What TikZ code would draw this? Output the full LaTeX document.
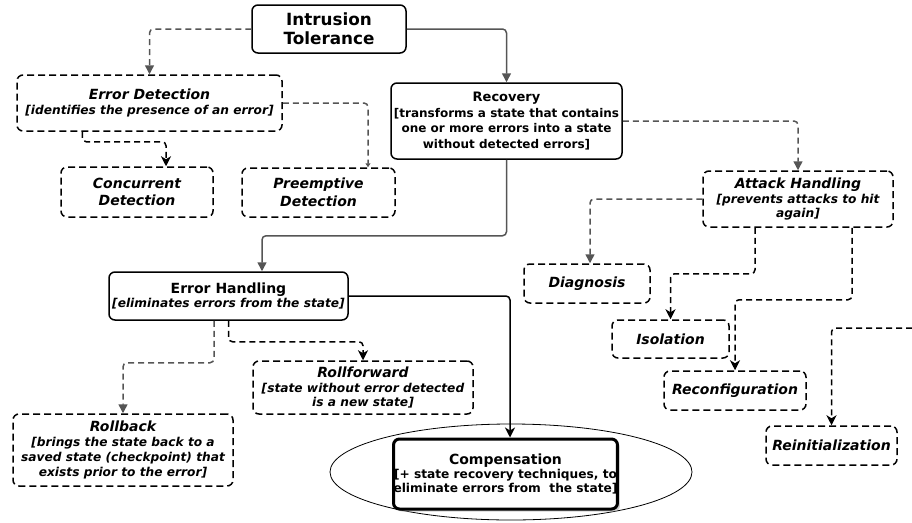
\documentclass[tikz,border=0pt]{standalone}
\usepackage{fontspec}
\setmainfont{DejaVu Sans}
\usetikzlibrary{arrows.meta,shapes.geometric,shadows}
\definecolor{cgray}{HTML}{555555}
\newcommand\ttlit[1]{{\fontsize{14}{16}\selectfont\bfseries\itshape #1}}
\newcommand\ttlbf[1]{{\fontsize{14}{16}\selectfont\bfseries\upshape #1}}
\begin{document}
\begin{tikzpicture}[x=1pt,y=-1pt,
  box/.style={draw, line width=1.5pt, rounded corners=6pt, align=center, inner sep=0pt, text=black,
    font=\fontsize{12.2}{14.8}\selectfont\bfseries\itshape},
  dbox/.style={box, dash pattern=on 7pt off 4pt},
  gtip/.style={-{Triangle[length=9pt,width=9pt]}},
  btip/.style={-{Stealth[length=10pt,width=10pt,inset=3pt]}},
  gsolid/.style={draw=cgray, line width=1.5pt, rounded corners=4pt, gtip},
  gdash/.style={gsolid, dash pattern=on 6pt off 4pt},
  bsolid/.style={draw=black, line width=1.5pt, rounded corners=4pt, btip},
  bdash/.style={bsolid, dash pattern=on 6pt off 4pt}
]
\useasboundingbox (0,0) rectangle (912,522);

% ellipse behind compensation
\node[ellipse, draw, line width=0.8pt, minimum width=362pt, minimum height=96pt] (ell) at (511,472) {};

% nodes
\node[box, minimum width=154pt, minimum height=48pt, font=\fontsize{16.8}{19}\selectfont\bfseries] (it) at (329,29) {Intrusion\\Tolerance};
\node[dbox, minimum width=265pt, minimum height=56pt] (ed) at (149.5,103) {\ttlit{Error Detection}\\{}[identifies the presence of an error]};
\node[dbox, minimum width=152pt, minimum height=50pt, font=\fontsize{14}{17.5}\selectfont\bfseries\itshape] (cd) at (137,192) {Concurrent\\Detection};
\node[dbox, minimum width=153pt, minimum height=49pt, font=\fontsize{14}{17.5}\selectfont\bfseries\itshape] (pd) at (318.5,192.5) {Preemptive\\Detection};
\node[box, minimum width=231pt, minimum height=76pt, font=\fontsize{12}{15.5}\selectfont\bfseries] (rec) at (506.5,121) {\fontsize{13}{15.5}\selectfont Recovery\\{}[transforms a state that contains\\one or more errors into a state\\without detected errors]};
\node[dbox, minimum width=190pt, minimum height=56pt] (ah) at (798,199) {\ttlit{Attack Handling}\\{}[prevents attacks to hit\\again]};
\node[dbox, minimum width=126pt, minimum height=39pt, font=\fontsize{14}{16}\selectfont\bfseries\itshape] (dg) at (587,283.5) {Diagnosis};
\node[dbox, minimum width=117pt, minimum height=38pt, font=\fontsize{14}{16}\selectfont\bfseries\itshape] (is) at (670.5,339) {Isolation};
\node[dbox, minimum width=142pt, minimum height=39pt, font=\fontsize{14}{16}\selectfont\bfseries\itshape] (rc) at (735,390.5) {Reconfiguration};
\node[dbox, minimum width=131pt, minimum height=39pt, font=\fontsize{14}{16}\selectfont\bfseries\itshape] (ri) at (831.5,445.5) {Reinitialization};
\node[box, minimum width=239pt, minimum height=48pt] (eh) at (228.5,296) {\ttlbf{Error Handling}\\{}[eliminates errors from the state]};
\node[dbox, minimum width=220pt, minimum height=53pt] (rf) at (363,387.5) {\ttlit{Rollforward}\\{}[state without error detected\\is a new state]};
\node[dbox, minimum width=220pt, minimum height=72pt] (rb) at (123,450) {\ttlit{Rollback}\\{}[brings the state back to a\\saved state (checkpoint) that\\exists prior to the error]};
\node[box, line width=3pt, fill=white, minimum width=217pt, minimum height=70pt, font=\fontsize{12.2}{14}\selectfont\bfseries\upshape,
  drop shadow={shadow xshift=2.5pt, shadow yshift=-2.5pt, fill=black!35}] (cp) at (505.5,474) {\ttlbf{Compensation}\\{}[+ state recovery techniques, to\\eliminate errors from\ \ the state]};

\coordinate (rfree) at (912,328);

% connectors
\draw[gdash] (it.west) -| (ed.north);
\draw[gsolid] (it.east) -| (rec.north);
\draw[bdash] ([xshift=66pt]ed.south west) -- ++(0,10) -| ([xshift=29pt]cd.north);
\draw[gdash, -{Triangle[length=4pt,width=5pt]}] (ed.east) -| ([xshift=49.5pt]pd.north);
\draw[gdash] (rec.east) -| (ah.north);
\draw[gsolid] (rec.south) -- ++(0,76) -| ([xshift=33.5pt]eh.north);
\draw[gdash] (ah.west) -| ([xshift=3pt]dg.north);
\draw[bdash] ([xshift=-43pt]ah.south) -- ++(0,46) -| (is.north);
\draw[bdash] ([xshift=54pt]ah.south) -- ++(0,72) -| (rc.north);
\draw[bdash] (rfree) -| (ri.north);
\draw[gdash] ([xshift=-14.5pt]eh.south) -- ++(0,42) -| (rb.north);
\draw[bdash] (eh.south) -- ++(0,21) -| (rf.north);
\draw[bsolid] (eh.east) -| ([xshift=4.5pt]cp.north);
\end{tikzpicture}
\end{document}
